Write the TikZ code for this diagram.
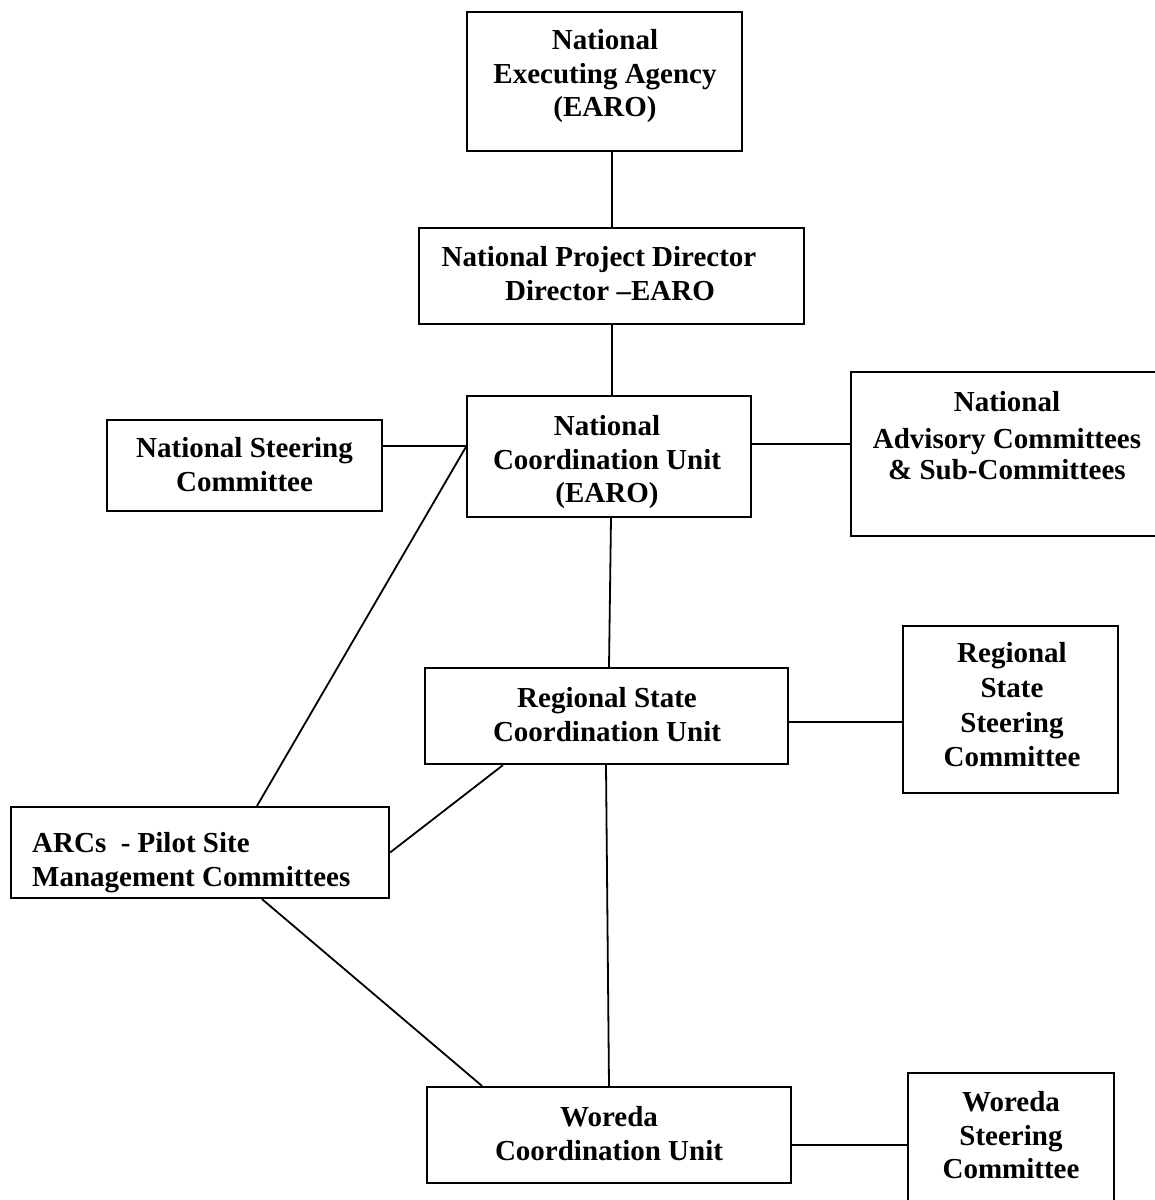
\documentclass[tikz,border=0pt]{standalone}
\usepackage{fontspec}
\setmainfont{Liberation Serif}
\begin{document}
\begin{tikzpicture}[x=1pt,y=-1pt,
  box/.style={draw, rectangle, line width=2.2pt, inner sep=0pt},
  txt/.style={inner sep=0pt, align=center, font=\bfseries\fontsize{29}{33.5}\selectfont},
  conn/.style={line width=1.8pt}]
\useasboundingbox (0,0) rectangle (1155,1200);
\clip (0,0) rectangle (1155,1200);
% boxes
\node[box, minimum width=275, minimum height=139] (earo) at (604.5,81.5) {};
\node[box, minimum width=385, minimum height=96] (npd) at (611.5,276) {};
\node[box, minimum width=284, minimum height=121] (ncu) at (609,456.5) {};
\node[box, minimum width=275, minimum height=91] (nsc) at (244.5,465.5) {};
\node[box, minimum width=319, minimum height=164] (adv) at (1010.5,454) {};
\node[box, minimum width=363, minimum height=96] (rscu) at (606.5,716) {};
\node[box, minimum width=215, minimum height=167] (rssc) at (1010.5,709.5) {};
\node[box, minimum width=378, minimum height=91] (arcs) at (200,852.5) {};
\node[box, minimum width=364, minimum height=96] (wcu) at (609,1135) {};
\node[box, minimum width=206, minimum height=142] (wsc) at (1011,1144) {};
% texts
\node[txt] (earot) at (605,76.6) {\strut National\\Executing Agency\\(EARO)\strut};
\node[txt] (npdt) at (610,276.9) {\strut National Project Director\hspace*{22pt}\\Director –EARO\strut};
\node[txt] (ncut) at (607,462.6) {\strut National\\Coordination Unit\\(EARO)\strut};
\node[txt] (nsct) at (244.5,467.9) {\strut National Steering\\Committee\strut};
\node[txt] (advt) at (1007,438.8) {\strut National\\[3.5pt]Advisory Committees\\[-2.5pt]\&~Sub-Committees\strut};
\node[txt] (rscut) at (607,717.9) {\strut Regional State\\Coordination Unit\strut};
\node[txt, font=\bfseries\fontsize{29}{34.7}\selectfont] (rssct) at (1012,707.9) {\strut Regional\\State\\Steering\\Committee\strut};
\node[txt, align=left, anchor=west] (arcst) at (32,862.9) {\strut ARCs\ \ - Pilot Site\\Management Committees\strut};
\node[txt] (wcut) at (609,1136.9) {\strut Woreda\\Coordination Unit\strut};
\node[txt] (wsct) at (1011,1138.6) {\strut Woreda\\Steering\\Committee\strut};
% connectors
\draw[conn] ([xshift=7.5pt]earo.south) -- ([xshift=0.5pt]npd.north);
\draw[conn] ([xshift=0.5pt]npd.south) -- ([xshift=3pt]ncu.north);
\draw[conn] ([yshift=19.5pt]nsc.east) -- ([yshift=10.5pt]ncu.west);
\draw[conn] ([yshift=12.5pt]ncu.east) -- ([yshift=10pt]adv.west);
\draw[conn] ([yshift=9.5pt]ncu.west) -- ([xshift=57pt]arcs.north);
\draw[conn] ([xshift=2pt]ncu.south) -- ([xshift=2.5pt]rscu.north);
\draw[conn] ([yshift=-6pt]rscu.east) -- ([yshift=-12.5pt]rssc.west);
\draw[conn] ([xshift=-103.5pt]rscu.south) -- (arcs.east);
\draw[conn] ([xshift=-0.5pt]rscu.south) -- (wcu.north);
\draw[conn] ([xshift=62pt]arcs.south) -- ([xshift=-127pt]wcu.north);
\draw[conn] ([yshift=-10pt]wcu.east) -- ([yshift=-1pt]wsc.west);
\end{tikzpicture}
\end{document}
